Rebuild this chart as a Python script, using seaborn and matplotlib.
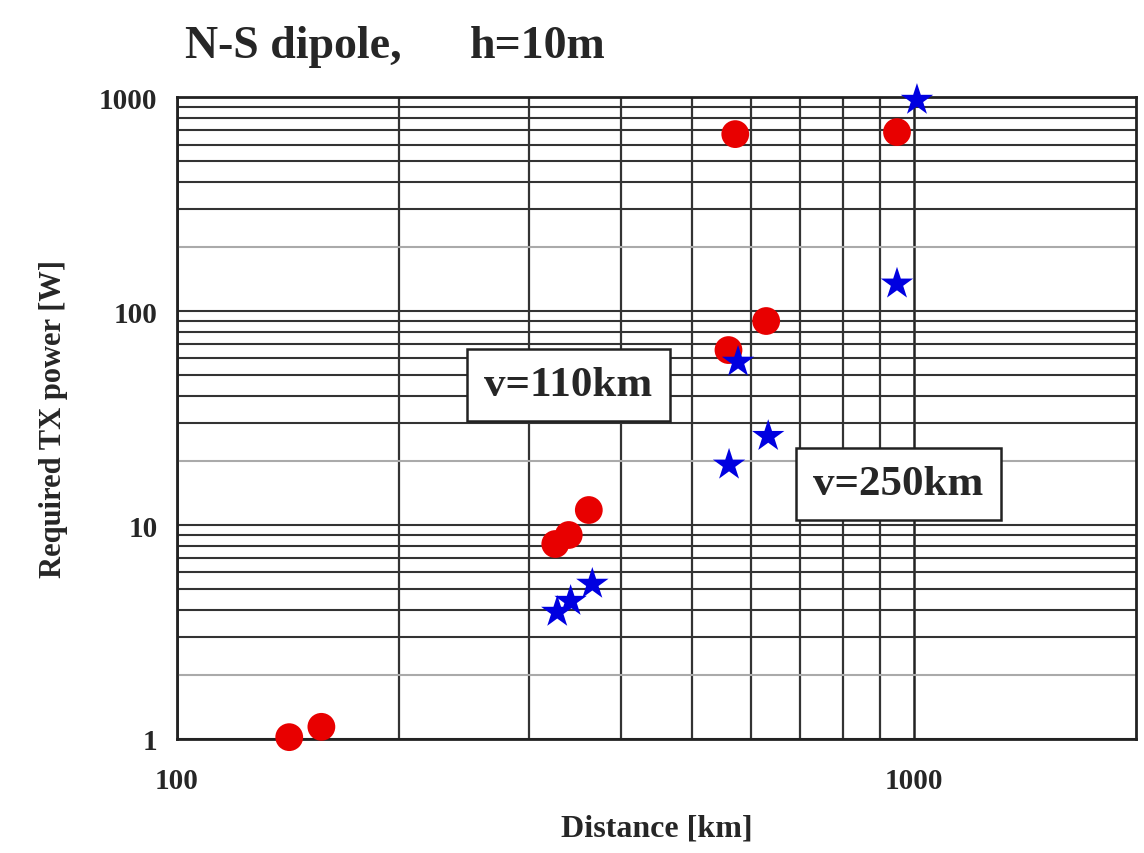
import matplotlib
matplotlib.use("Agg")
import matplotlib.pyplot as plt
import seaborn as sns
import pandas as pd

# ── Datos ───────────────────────────────────────────────────────────────────
DIST_110 = [142, 157, 326, 340, 362, 560, 630, 572, 948]
POW_110 = [1.02, 1.14, 8.15, 8.98, 11.75, 65.7, 89.8, 671, 686]

DIST_250 = [1009, 948, 577, 634, 561, 328, 342, 366]
POW_250 = [968, 134, 57.8, 26.0, 19.1, 3.92, 4.41, 5.3]

SERIES = ["v=110km", "v=250km"]
COLORES = {"v=110km": "#e80000", "v=250km": "#0000e0"}
MARCAS = {"v=110km": "o", "v=250km": "*"}

df = pd.DataFrame({
    "dist": DIST_110 + DIST_250,
    "pow": POW_110 + POW_250,
    "serie": [SERIES[0]] * len(DIST_110) + [SERIES[1]] * len(DIST_250),
})

sns.set_theme(style="white")
plt.rcParams["font.family"] = ["Liberation Serif", "DejaVu Serif"]

fig = plt.figure(figsize=(11.44, 8.54), dpi=100)
ax = fig.add_axes([0.1547, 0.1335, 0.8383, 0.7517])

ax.set_xscale("log")
ax.set_yscale("log")
ax.set_xlim(100, 2000)
ax.set_ylim(1, 1000)

# ── Rejilla tipo papel log ─────────────────────────────────────────────────
for d in [100, 1000]:
    ax.axvline(d, color="#222222", lw=1.8, zorder=1)
for m in range(2, 10):
    ax.axvline(m * 100, color="#333333", lw=1.6, zorder=1)
for dec in [1, 10, 100]:
    for m in range(1, 10):
        col = "#aaaaaa" if m == 2 else "#333333"
        ax.axhline(m * dec, color=col, lw=1.5, zorder=1)

for serie in SERIES:
    sub = df[df["serie"] == serie]
    sns.scatterplot(
        data=sub, x="dist", y="pow", ax=ax,
        color=COLORES[serie], marker=MARCAS[serie],
        s=400 if serie == SERIES[0] else 600,
        edgecolor="none", linewidth=0, zorder=3, clip_on=False,
    )

ax.set_xticks([100, 1000])
ax.set_xticklabels(["100", "1000"])
ax.set_yticks([1, 10, 100, 1000])
ax.set_yticklabels(["1", "10", "100", "1000"])
ax.minorticks_off()
ax.tick_params(axis="both", length=0, labelsize=21)
ax.tick_params(axis="x", pad=20)
ax.tick_params(axis="y", pad=14)
for lbl in ax.get_xticklabels() + ax.get_yticklabels():
    lbl.set_fontweight("bold")

for sp in ax.spines.values():
    sp.set_visible(True)
    sp.set_color("#222222")
    sp.set_linewidth(2)

ax.set_xlabel("Distance [km]", fontsize=23, fontweight="bold", labelpad=14)
ax.set_ylabel("Required TX power [W]", fontsize=22, fontweight="bold", labelpad=22)

fig.text(0.162, 0.945, "N-S dipole,", fontsize=33, fontweight="bold",
         ha="left", va="center")
fig.text(0.411, 0.945, "h=10m", fontsize=33, fontweight="bold",
         ha="left", va="center")

caja = dict(boxstyle="square,pad=0.4", facecolor="white",
            edgecolor="#222222", linewidth=1.8)
ax.text(0.408, 0.551, "v=110km", transform=ax.transAxes, fontsize=31,
        fontweight="bold", ha="center", va="center", bbox=caja, zorder=4)
ax.text(0.752, 0.397, "v=250km", transform=ax.transAxes, fontsize=31,
        fontweight="bold", ha="center", va="center", bbox=caja, zorder=4)

fig.savefig("out.png", dpi=100, facecolor="white")
